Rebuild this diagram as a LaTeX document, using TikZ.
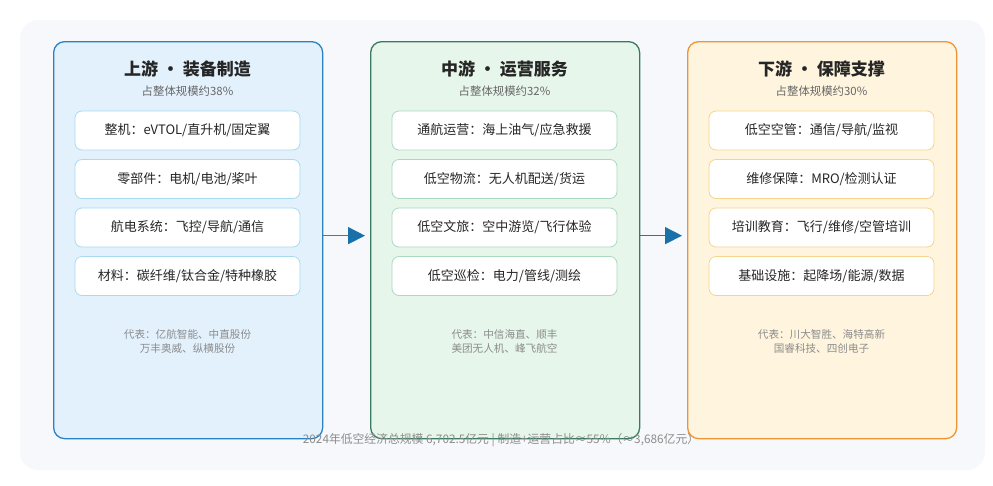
\documentclass[tikz,border=0pt]{standalone}
\usepackage{fontspec}
\setmainfont{Noto Sans CJK SC}
\usetikzlibrary{positioning}
\usetikzlibrary{arrows.meta}
\usetikzlibrary{backgrounds}
\definecolor{panelbg}{HTML}{F6F8FB}
\definecolor{upfill}{HTML}{E3F1FD}
\definecolor{upline}{HTML}{2A82C0}
\definecolor{upitem}{HTML}{A6DCEE}
\definecolor{midfill}{HTML}{E6F6EA}
\definecolor{midline}{HTML}{3A7A5E}
\definecolor{miditem}{HTML}{ABD9BF}
\definecolor{downfill}{HTML}{FFF5DE}
\definecolor{downline}{HTML}{EF9433}
\definecolor{downitem}{HTML}{F5D48C}
\definecolor{tipblue}{HTML}{1A70A8}
\tikzset{stage/.style={rectangle,rounded corners=11pt,line width=1.3pt,
minimum width=269pt,minimum height=397pt,anchor=north west},
title/.style={font=\fontsize{17}{17}\selectfont\bfseries,text=black!85},
share/.style={font=\fontsize{11.4}{11.4}\selectfont,text=black!60},
item/.style={rectangle,rounded corners=7pt,fill=white,line width=0.8pt,
minimum width=225pt,minimum height=39pt,font=\fontsize{13}{13}\selectfont,text=black!85},
rep/.style={font=\fontsize{10.6}{10.6}\selectfont,text=black!45},
flow/.style={line width=1.6pt,shorten >=5pt}}

\begin{document}
\begin{tikzpicture}[x=1pt,y=-1pt]
  \useasboundingbox (0,0) rectangle (993,485);
  \fill [panelbg] (20,20) [rounded corners=18pt] rectangle (985,470);
  % three stages
  \node (up) [stage,draw=upline,fill=upfill] at (53,41) {};
  \node (mid) [stage,draw=midline,fill=midfill] at (370,41) {};
  \node (down) [stage,draw=downline,fill=downfill] at (687,41) {};
  % upstream
  \node (upt) [title] at (187.5,69) {上游 · 装备制造};
  \node (ups) [share] at (187.5,91) {占整体规模约38\%};
  \node (up1) [item,draw=upitem] at (187.5,130.5) {整机：eVTOL/直升机/固定翼};
  \node (up2) [item,draw=upitem] at (187.5,179) {零部件：电机/电池/桨叶};
  \node (up3) [item,draw=upitem] at (187.5,227.5) {航电系统：飞控/导航/通信};
  \node (up4) [item,draw=upitem] at (187.5,276) {材料：碳纤维/钛合金/特种橡胶};
  \node (upr) [rep,align=center] at (187.5,341.5) {代表：亿航智能、中直股份\\[3pt]万丰奥威、纵横股份};
  % midstream
  \node (midt) [title] at (504.5,69) {中游 · 运营服务};
  \node (mids) [share] at (504.5,91) {占整体规模约32\%};
  \node (mid1) [item,draw=miditem] at (504.5,130.5) {通航运营：海上油气/应急救援};
  \node (mid2) [item,draw=miditem] at (504.5,179) {低空物流：无人机配送/货运};
  \node (mid3) [item,draw=miditem] at (504.5,227.5) {低空文旅：空中游览/飞行体验};
  \node (mid4) [item,draw=miditem] at (504.5,276) {低空巡检：电力/管线/测绘};
  \node (midr) [rep,align=center] at (504.5,341.5) {代表：中信海直、顺丰\\[3pt]美团无人机、峰飞航空};
  % downstream
  \node (downt) [title] at (821.5,69) {下游 · 保障支撑};
  \node (downs) [share] at (821.5,91) {占整体规模约30\%};
  \node (down1) [item,draw=downitem] at (821.5,130.5) {低空空管：通信/导航/监视};
  \node (down2) [item,draw=downitem] at (821.5,179) {维修保障：MRO/检测认证};
  \node (down3) [item,draw=downitem] at (821.5,227.5) {培训教育：飞行/维修/空管培训};
  \node (down4) [item,draw=downitem] at (821.5,276) {基础设施：起降场/能源/数据};
  \node (downr) [rep,align=center] at (821.5,341.5) {代表：川大智胜、海特高新\\[3pt]国睿科技、四创电子};
  % flow between stages
  \draw [flow,upline,-{Triangle[length=17pt,width=17pt,fill=tipblue,color=tipblue]}]
    ([yshift=4.5pt]up.east) -- ([yshift=4.5pt]mid.west);
  \draw [flow,midline,-{Triangle[length=17pt,width=17pt,fill=tipblue,color=tipblue]}]
    ([yshift=4.5pt]mid.east) -- ([yshift=4.5pt]down.west);
  \node (total) [font=\fontsize{11.8}{11.8}\selectfont,text=black!45] at (501,440)
    {2024年低空经济总规模 6,702.5亿元 | 制造+运营占比≈55\%（≈3,686亿元）};
\end{tikzpicture}
\end{document}
